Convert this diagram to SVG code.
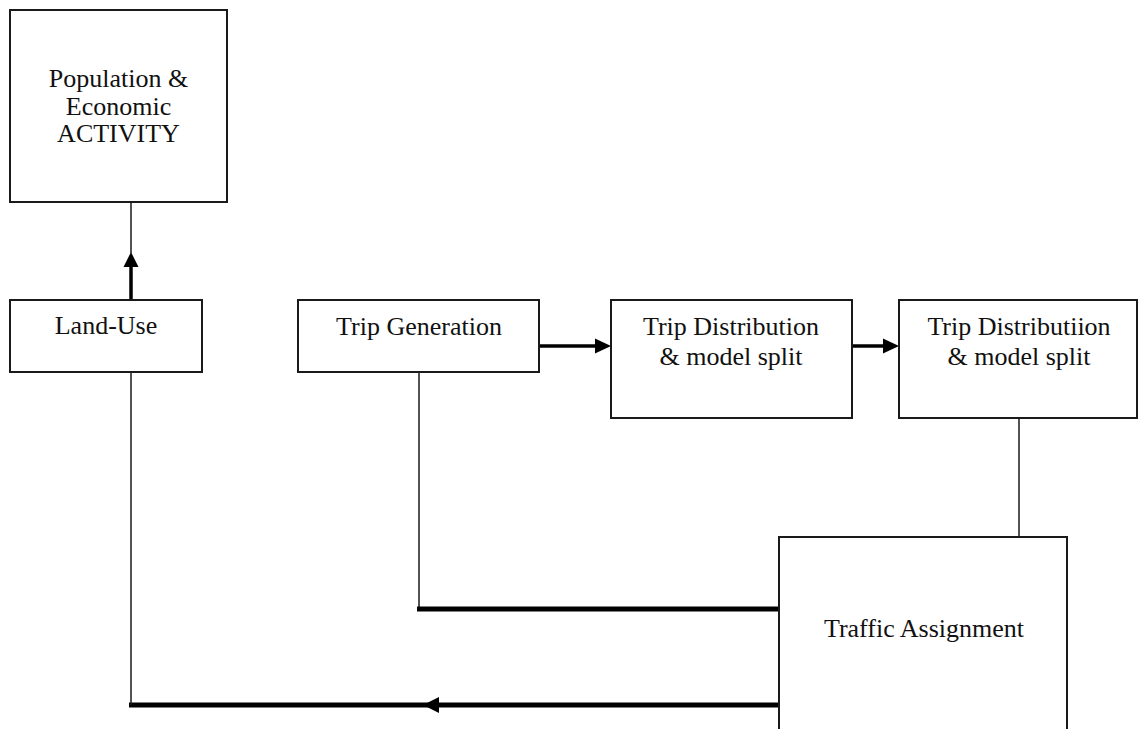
<svg xmlns="http://www.w3.org/2000/svg" width="1139" height="729" viewBox="0 0 1139 729">
<style>
.box{fill:#fff;stroke:#1a1a1a;stroke-width:2}
.t{font-family:"Liberation Serif","Times New Roman",serif;font-size:26px;fill:#111;text-anchor:middle}
.thin{stroke:#1a1a1a;stroke-width:1.5;fill:none}
.mid{stroke:#000;stroke-width:3.5;fill:none}
.thick{stroke:#000;stroke-width:5;fill:none}
.head{fill:#000}
</style>
<rect width="1139" height="729" fill="#fff"/>
<g id="connectors">
  <line class="mid" x1="131" y1="300" x2="131" y2="266"/>
  <polygon class="head" points="123.5,267 138.5,267 131,252"/>
  <line class="thin" x1="131" y1="253" x2="131" y2="202"/>
  <line class="mid" x1="539" y1="346" x2="596" y2="346"/>
  <polygon class="head" points="595,338.5 595,353.5 611,346"/>
  <line class="mid" x1="852" y1="346" x2="884" y2="346"/>
  <polygon class="head" points="883,338.5 883,353.5 899,346"/>
  <line class="thin" x1="1019" y1="418" x2="1019" y2="537"/>
  <line class="thin" x1="419" y1="372" x2="419" y2="609"/>
  <line class="thick" x1="417" y1="609" x2="779" y2="609"/>
  <line class="thick" x1="779" y1="705" x2="129" y2="705"/>
  <polygon class="head" points="423,705 439,697 439,713"/>
  <line class="thin" x1="131" y1="372" x2="131" y2="705"/>
</g>
<g id="population">
  <rect class="box" x="10" y="10" width="217" height="192"/>
  <text class="t" x="118.5" y="87">Population &amp;</text>
  <text class="t" x="118.5" y="115">Economic</text>
  <text class="t" x="118.5" y="142">ACTIVITY</text>
</g>
<g id="landuse">
  <rect class="box" x="10" y="300" width="192" height="72"/>
  <text class="t" x="106" y="334">Land-Use</text>
</g>
<g id="tripgen">
  <rect class="box" x="298" y="300" width="241" height="72"/>
  <text class="t" x="419" y="335">Trip Generation</text>
</g>
<g id="tripdist1">
  <rect class="box" x="611" y="300" width="241" height="118"/>
  <text class="t" x="731" y="335">Trip Distribution</text>
  <text class="t" x="731" y="365">&amp; model split</text>
</g>
<g id="tripdist2">
  <rect class="box" x="899" y="300" width="238" height="118"/>
  <text class="t" x="1019" y="335">Trip Distributiion</text>
  <text class="t" x="1019" y="365">&amp; model split</text>
</g>
<g id="traffic">
  <rect class="box" x="779" y="537" width="288" height="200"/>
  <text class="t" x="924" y="637">Traffic Assignment</text>
</g>
</svg>
